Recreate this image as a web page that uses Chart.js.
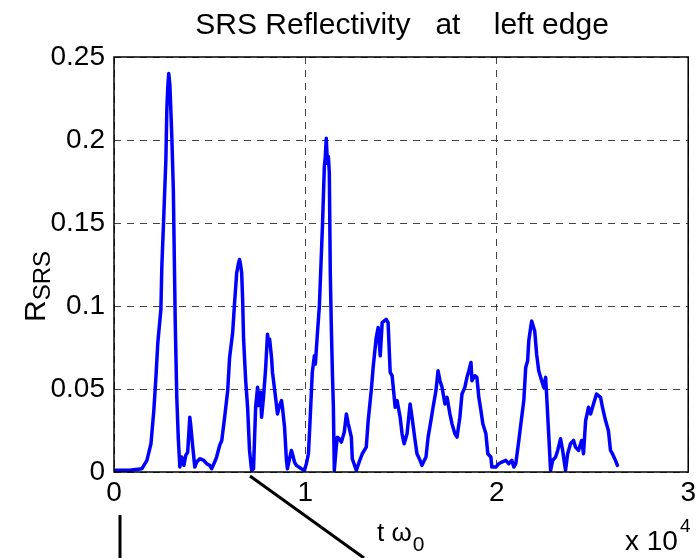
<!DOCTYPE html>
<html>
<head>
<meta charset="utf-8">
<script src="https://cdn.jsdelivr.net/npm/chart.js@4"></script>
<style>
html,body{margin:0;padding:0;background:#fff;}
canvas{display:block;}
</style>
</head>
<body>
<canvas id="c" width="700" height="558"></canvas>
<script>
// time axis in units of 10^4 (t omega_0)
const tValues = [0,0.083,0.146,0.172,0.193,0.208,0.219,0.229,0.245,0.25,0.26,0.271,0.276,0.281,0.286,0.292,0.297,0.302,0.31,0.315,0.32,0.328,0.336,0.344,0.354,0.365,0.375,0.385,0.396,0.401,0.409,0.422,0.432,0.448,0.469,0.484,0.5,0.51,0.526,0.536,0.552,0.563,0.578,0.594,0.604,0.62,0.63,0.641,0.651,0.656,0.661,0.667,0.672,0.677,0.688,0.698,0.708,0.719,0.729,0.74,0.75,0.755,0.766,0.771,0.781,0.792,0.802,0.807,0.813,0.823,0.828,0.844,0.854,0.865,0.875,0.88,0.891,0.901,0.906,0.917,0.927,0.932,0.943,0.953,0.979,0.995,1.005,1.016,1.026,1.036,1.047,1.052,1.063,1.073,1.083,1.089,1.099,1.104,1.109,1.115,1.12,1.125,1.13,1.135,1.141,1.146,1.151,1.161,1.167,1.177,1.188,1.203,1.214,1.224,1.24,1.245,1.266,1.281,1.297,1.318,1.328,1.344,1.354,1.37,1.38,1.391,1.401,1.422,1.432,1.443,1.453,1.469,1.479,1.495,1.505,1.516,1.531,1.547,1.557,1.573,1.583,1.599,1.609,1.63,1.641,1.656,1.667,1.682,1.693,1.703,1.714,1.729,1.74,1.755,1.766,1.781,1.792,1.807,1.818,1.833,1.844,1.854,1.865,1.87,1.885,1.896,1.906,1.917,1.927,1.943,1.953,1.969,1.974,1.995,2.01,2.026,2.047,2.063,2.078,2.089,2.099,2.115,2.13,2.141,2.151,2.161,2.167,2.177,2.182,2.198,2.208,2.219,2.229,2.245,2.255,2.26,2.271,2.281,2.292,2.307,2.318,2.333,2.344,2.359,2.37,2.385,2.401,2.411,2.427,2.443,2.453,2.464,2.479,2.49,2.505,2.521,2.542,2.552,2.568,2.583,2.594,2.604,2.62,2.63];
// SRS reflectivity
const rValues = [0.001,0.001,0.002,0.007,0.017,0.037,0.057,0.078,0.098,0.124,0.154,0.188,0.218,0.232,0.24,0.233,0.218,0.202,0.17,0.13,0.09,0.045,0.02,0.003,0.009,0.004,0.01,0.012,0.033,0.028,0.018,0.003,0.006,0.008,0.007,0.005,0.004,0.002,0.006,0.009,0.016,0.019,0.033,0.049,0.069,0.084,0.102,0.12,0.126,0.128,0.125,0.12,0.104,0.08,0.055,0.039,0.013,0.001,0.002,0.039,0.051,0.04,0.048,0.033,0.045,0.062,0.083,0.078,0.08,0.069,0.06,0.045,0.035,0.04,0.043,0.039,0.027,0.007,0.002,0.008,0.013,0.011,0.006,0.004,0.002,0.001,0.005,0.011,0.035,0.06,0.07,0.065,0.084,0.1,0.13,0.148,0.184,0.19,0.201,0.186,0.19,0.18,0.12,0.09,0.06,0.04,0.001,0.015,0.021,0.02,0.018,0.024,0.035,0.029,0.021,0.008,0.001,0.006,0.011,0.015,0.031,0.049,0.063,0.081,0.087,0.07,0.09,0.092,0.09,0.06,0.058,0.039,0.043,0.033,0.023,0.017,0.023,0.041,0.033,0.019,0.011,0.007,0.004,0.009,0.021,0.031,0.039,0.049,0.061,0.055,0.051,0.041,0.045,0.035,0.029,0.023,0.021,0.033,0.047,0.051,0.057,0.061,0.066,0.055,0.058,0.057,0.045,0.037,0.029,0.023,0.011,0.009,0.003,0.003,0.005,0.006,0.007,0.005,0.007,0.003,0.005,0.019,0.033,0.043,0.063,0.067,0.079,0.087,0.091,0.085,0.071,0.061,0.057,0.051,0.057,0.047,0.023,0.001,0.007,0.009,0.013,0.02,0.013,0.001,0.011,0.017,0.019,0.015,0.013,0.019,0.011,0.031,0.039,0.035,0.041,0.047,0.045,0.039,0.031,0.025,0.013,0.011,0.007,0.004];
const xTicks = [0, 1, 2, 3];
const yTicks = [0, 0.05, 0.1, 0.15, 0.2, 0.25];
const titleText = 'SRS Reflectivity   at    left edge';
const xLabelMain = 't \u03c9';
const xLabelSub = '0';
const yLabelMain = 'R';
const yLabelSub = 'SRS';
const xExpBase = 'x 10';
const xExpPow = '4';

const FONT = '"Liberation Sans", Arial, Helvetica, sans-serif';
const points = tValues.map((t, i) => ({x: t, y: rValues[i]}));

const decor = {
  id: 'decor',
  afterDraw(chart) {
    const ctx = chart.ctx;
    const a = chart.chartArea;
    ctx.save();
    // full box
    ctx.strokeStyle = '#000';
    ctx.lineWidth = 1.5;
    ctx.strokeRect(a.left, a.top, a.right - a.left, a.bottom - a.top);
    ctx.fillStyle = '#000';
    ctx.textBaseline = 'alphabetic';
    // title
    ctx.font = '30px ' + FONT;
    ctx.textAlign = 'center';
    ctx.fillText(titleText, (a.left + a.right) / 2 + 1, 34);
    // x label
    ctx.textAlign = 'left';
    ctx.font = '26px ' + FONT;
    const xl = 377;
    ctx.fillText(xLabelMain, xl, 541);
    const w1 = ctx.measureText(xLabelMain).width;
    ctx.font = '21px ' + FONT;
    ctx.fillText(xLabelSub, xl + w1 + 1, 551);
    // exponent
    ctx.font = '28px ' + FONT;
    ctx.fillText(xExpBase, 625, 550);
    const w2 = ctx.measureText(xExpBase).width;
    ctx.font = '19px ' + FONT;
    ctx.fillText(xExpPow, 625 + w2 + 2, 532);
    // y label
    ctx.translate(45, 322);
    ctx.rotate(-Math.PI / 2);
    ctx.font = '30px ' + FONT;
    ctx.textAlign = 'left';
    ctx.fillText(yLabelMain, 0, 0);
    const w3 = ctx.measureText(yLabelMain).width;
    ctx.font = '24px ' + FONT;
    ctx.fillText(yLabelSub, w3, 5);
    ctx.restore();
    // stray strokes present in the source figure
    ctx.save();
    ctx.strokeStyle = '#000';
    ctx.lineWidth = 3;
    ctx.beginPath();
    ctx.moveTo(250, 476);
    ctx.lineTo(364, 558);
    ctx.moveTo(120, 515);
    ctx.lineTo(120, 558);
    ctx.stroke();
    ctx.restore();
  }
};

new Chart(document.getElementById('c'), {
  type: 'line',
  data: {
    datasets: [{
      data: points,
      borderColor: '#0000ff',
      borderWidth: 3.5,
      borderJoinStyle: 'round',
      borderCapStyle: 'round',
      pointRadius: 0,
      tension: 0,
      fill: false
    }]
  },
  options: {
    responsive: false,
    animation: false,
    devicePixelRatio: 1,
    layout: {padding: {left: 0, top: 57, right: 10, bottom: 0}},
    plugins: {legend: {display: false}, tooltip: {enabled: false}, title: {display: false}},
    scales: {
      x: {
        type: 'linear', min: 0, max: 3,
        afterBuildTicks: s => { s.ticks = xTicks.map(v => ({value: v})); },
        afterFit: s => { s.height = 86; },
        grid: {color: '#444', lineWidth: 1, drawTicks: false},
        border: {display: false, dash: [7, 6]},
        ticks: {color: '#000', font: {family: FONT, size: 28}, padding: 4, maxRotation: 0}
      },
      y: {
        type: 'linear', min: 0, max: 0.25,
        afterBuildTicks: s => { s.ticks = yTicks.map(v => ({value: v})); },
        afterFit: s => { s.width = 114; },
        grid: {color: '#444', lineWidth: 1, drawTicks: false},
        border: {display: false, dash: [7, 6]},
        ticks: {color: '#000', font: {family: FONT, size: 28}, padding: 9,
          callback: v => String(v)}
      }
    }
  },
  plugins: [decor]
});
</script>
</body>
</html>
